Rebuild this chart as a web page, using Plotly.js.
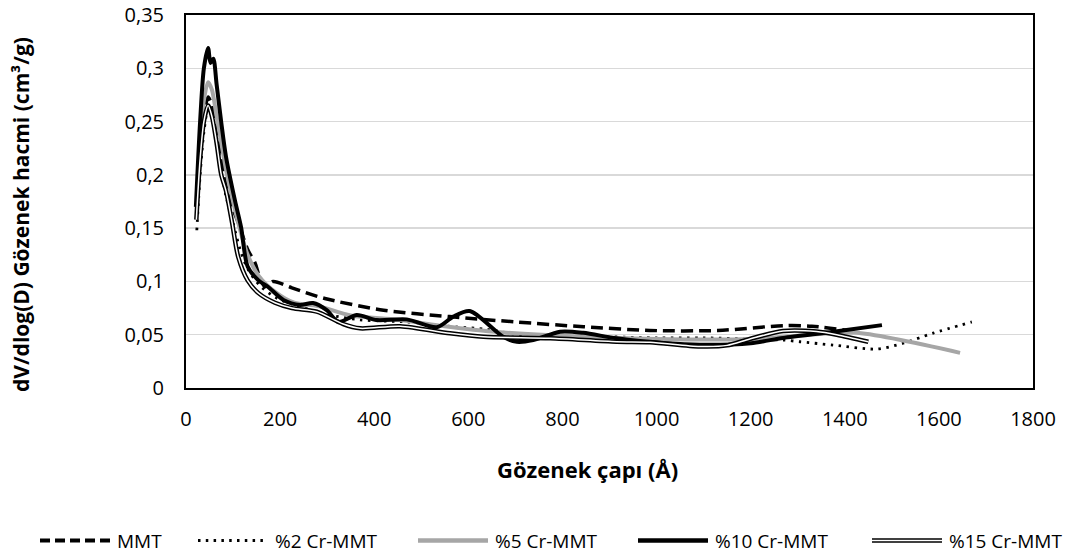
<!DOCTYPE html>
<html><head><meta charset="utf-8">
<script src="https://cdn.plot.ly/plotly-3.0.1.min.js"></script>
<style>body{margin:0;background:#fff}#chart{width:1065px;height:559px}</style>
</head><body><div id="chart"></div>
<script>
// ---- data (pore diameter in Å, dV/dlog(D) in cm³/g) ----
const seriesNames = ["MMT", "%2 Cr-MMT", "%5 Cr-MMT", "%10 Cr-MMT", "%15 Cr-MMT"];

const mmtX = [23, 30, 38, 47, 55, 65, 75, 85, 100, 111, 131, 147, 155, 168, 185, 225, 295, 420, 560, 700, 845, 985, 1130, 1270, 1330, 1420];
const mmtY = [0.165, 0.215, 0.255, 0.273, 0.265, 0.24, 0.215, 0.19, 0.168, 0.155, 0.13, 0.117, 0.106, 0.095, 0.1, 0.094, 0.084, 0.073, 0.067, 0.062, 0.0575, 0.054, 0.054, 0.0585, 0.058, 0.053];

const cr2X = [23, 30, 38, 47, 55, 65, 75, 85, 100, 115, 131, 155, 190, 230, 300, 370, 470, 570, 640, 720, 800, 900, 1000, 1100, 1200, 1270, 1305, 1375, 1468, 1524, 1588, 1670];
const cr2Y = [0.148, 0.2, 0.24, 0.262, 0.255, 0.235, 0.205, 0.18, 0.155, 0.13, 0.112, 0.097, 0.085, 0.078, 0.069, 0.064, 0.062, 0.0575, 0.055, 0.049, 0.048, 0.048, 0.047, 0.047, 0.046, 0.045, 0.0434, 0.0403, 0.0366, 0.042, 0.0515, 0.062];

const cr5X = [23, 30, 38, 47, 55, 65, 75, 85, 100, 111, 131, 155, 190, 230, 280, 350, 450, 550, 650, 800, 1000, 1200, 1300, 1420, 1645];
const cr5Y = [0.17, 0.225, 0.27, 0.287, 0.28, 0.255, 0.23, 0.205, 0.175, 0.155, 0.125, 0.105, 0.09, 0.08, 0.077, 0.068, 0.064, 0.058, 0.053, 0.049, 0.046, 0.046, 0.049, 0.052, 0.033];

const cr10X = [21, 30, 38, 47, 52, 58, 65, 75, 85, 104, 117, 131, 154, 174, 207, 242, 270, 299, 324, 363, 405, 469, 533, 568, 603, 674, 703, 738, 795, 844, 915, 1021, 1092, 1200, 1269, 1376, 1479];
const cr10Y = [0.17, 0.25, 0.3, 0.319, 0.305, 0.309, 0.285, 0.249, 0.217, 0.176, 0.151, 0.114, 0.101, 0.095, 0.0826, 0.078, 0.0797, 0.073, 0.062, 0.0685, 0.0638, 0.0644, 0.057, 0.067, 0.0722, 0.048, 0.0434, 0.045, 0.0528, 0.0518, 0.0466, 0.042, 0.0406, 0.042, 0.047, 0.0528, 0.059];

const cr15X = [22, 30, 38, 47, 55, 65, 75, 85, 98, 111, 131, 154, 189, 225, 278, 334, 370, 455, 561, 632, 774, 915, 986, 1092, 1150, 1198, 1269, 1340, 1383, 1450];
const cr15Y = [0.158, 0.215, 0.25, 0.265, 0.255, 0.23, 0.2, 0.185, 0.155, 0.123, 0.101, 0.089, 0.08, 0.075, 0.0716, 0.06, 0.056, 0.058, 0.0513, 0.048, 0.0466, 0.0434, 0.043, 0.039, 0.04, 0.046, 0.0535, 0.053, 0.05, 0.0434];

const xTitle = "Gözenek çapı (Å)";
const yTitle = "dV/dlog(D) Gözenek hacmi (cm³/g)";

// ---- styles ----
const FONT = "Open Sans, sans-serif";
const sm = 0.8;
function tr(x, y, name, line) {
  return {x: x, y: y, name: name, type: "scatter", mode: "lines",
    line: Object.assign({shape: "spline", smoothing: sm}, line), showlegend: false, hoverinfo: "skip"};
}
const traces = [
  tr(mmtX, mmtY, seriesNames[0], {color: "#000", width: 3.5, dash: "12px,6px"}),
  tr(cr2X, cr2Y, seriesNames[1], {color: "#000", width: 2.8, dash: "2.5px,5.5px"}),
  tr(cr5X, cr5Y, seriesNames[2], {color: "#a6a6a6", width: 4}),
  tr(cr10X, cr10Y, seriesNames[3], {color: "#000", width: 4}),
  tr(cr15X, cr15Y, seriesNames[4], {color: "#000", width: 4.5}),
  tr(cr15X, cr15Y, seriesNames[4], {color: "#fff", width: 1.5})
];

// ---- legend (custom, below plot) and axis titles ----
const L = 186, R = 1033, T = 15, B = 388;
const px2x = p => (p - L) / (R - L);
const py2y = p => (B - p) / (B - T);
const legY = py2y(540.5);
const legLineStart = [40, 198, 418, 638, 872];
const legLineLen = 70;
const legStyles = [
  [{color: "#000", width: 4, dash: "10px,5px"}],
  [{color: "#000", width: 2.8, dash: "2.5px,5.3px"}],
  [{color: "#a6a6a6", width: 4.5}],
  [{color: "#000", width: 4.5}],
  [{color: "#000", width: 4.5}, {color: "#fff", width: 1.5}]
];
const shapes = [];
const annotations = [];
seriesNames.forEach((n, i) => {
  legStyles[i].forEach(st => {
    shapes.push({type: "line", xref: "paper", yref: "paper",
      x0: px2x(legLineStart[i]), x1: px2x(legLineStart[i] + legLineLen), y0: legY, y1: legY, line: st});
  });
  annotations.push({xref: "paper", yref: "paper", x: px2x(legLineStart[i] + legLineLen + 5), y: legY,
    xanchor: "left", yanchor: "middle", text: n, showarrow: false,
    font: {family: FONT, size: 19, color: "#000"}});
});
annotations.push({xref: "paper", yref: "paper", x: px2x(587), y: py2y(469),
  xanchor: "center", yanchor: "middle", text: "<b>" + xTitle + "</b>", showarrow: false,
  font: {family: FONT, size: 22, color: "#000"}});
annotations.push({xref: "paper", yref: "paper", x: px2x(21), y: py2y(215), textangle: -90,
  xanchor: "center", yanchor: "middle", text: "<b>" + yTitle + "</b>", showarrow: false,
  font: {family: FONT, size: 21, color: "#000"}});

const layout = {
  width: 1065, height: 559,
  margin: {l: L, r: 1065 - R, t: T, b: 559 - B},
  paper_bgcolor: "#fff", plot_bgcolor: "#fff",
  separators: ",.",
  showlegend: false,
  font: {family: FONT, size: 20, color: "#000"},
  xaxis: {range: [0, 1800], dtick: 200, tick0: 0, showgrid: false, zeroline: false,
    showline: true, linecolor: "#000", linewidth: 2, mirror: true,
    ticks: "outside", ticklen: 12, tickcolor: "rgba(0,0,0,0)",
    tickfont: {family: FONT, size: 20, color: "#000"},
    automargin: false},
  yaxis: {range: [0, 0.35], dtick: 0.05, tick0: 0, showgrid: true, gridcolor: "#d9d9d9", gridwidth: 1.5,
    zeroline: false, showline: true, linecolor: "#000", linewidth: 2, mirror: true,
    ticks: "outside", ticklen: 16, tickcolor: "rgba(0,0,0,0)",
    tickfont: {family: FONT, size: 20, color: "#000"},
    automargin: false},
  shapes: shapes,
  annotations: annotations
};

Plotly.newPlot("chart", traces, layout, {displayModeBar: false, staticPlot: true});
</script>
</body></html>
